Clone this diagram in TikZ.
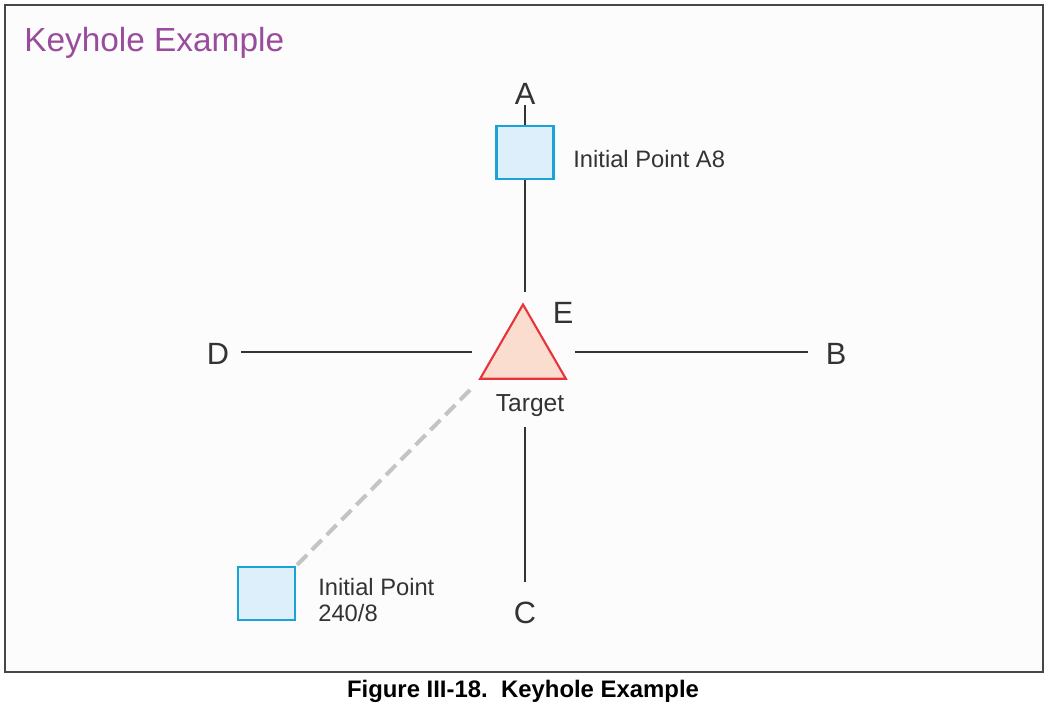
\documentclass[tikz,border=0pt]{standalone}
\usepackage{fontspec}
\setmainfont{Liberation Sans}
\usetikzlibrary{positioning,shapes.geometric}
\definecolor{ink}{HTML}{333333}
\definecolor{khpurple}{HTML}{9A4C9C}
\definecolor{ipline}{HTML}{1AA3D6}
\definecolor{ipfill}{HTML}{DDEFFA}
\definecolor{tgtline}{HTML}{E8333A}
\definecolor{tgtfill}{HTML}{FBDDD0}
\definecolor{dashgray}{HTML}{C4C4C4}
\begin{document}
\begin{tikzpicture}[x=0.02cm, y=-0.02cm, every node/.style={text=ink, inner sep=0pt}]
\tikzstyle{ip}=[draw=ipline, fill=ipfill, line width=1.2pt, minimum width=1.14cm, minimum height=1.06cm]
\tikzstyle{dir}=[font=\fontsize{17.5}{20}\selectfont]
\tikzstyle{txt}=[font=\fontsize{13.5}{15}\selectfont, align=left, anchor=west]
\tikzstyle{leg}=[draw=ink, line width=1.3pt]
\useasboundingbox (0,0) rectangle (1047,705);
% frame and titles
\draw[draw=ink!90, fill=white!99!black, line width=1.3pt] (5,5) rectangle (1043,672);
\node[anchor=base west, text=khpurple, font=\fontsize{19}{22}\selectfont] (title) at (24,52) {Keyhole Example};
\node[anchor=base, font=\bfseries\fontsize{13.6}{16}\selectfont, text=black] (cap) at (523,697) {Figure III-18.\ \ Keyhole Example};
% target
\node[regular polygon, regular polygon sides=3, minimum size=1.98cm, draw=tgtline, fill=tgtfill, line width=1.2pt] (tgt) at (523,354) {};
\node[anchor=base, font=\fontsize{14}{16}\selectfont] (tlab) at (530,412) {Target};
% legs
\node[dir] (A) at (525,94) {A};
\node[dir] (B) at (836,354) {B};
\node[dir] (C) at (525,613) {C};
\node[dir] (D) at (218,354) {D};
\node[dir] (E) at (563,313) {E};
\coordinate (nN) at (525,292);
\coordinate (nS) at (525,427);
\coordinate (nW) at (472,352);
\coordinate (nE) at (575,352);
\coordinate (fS) at (525,582);
\coordinate (fW) at (241,352);
\coordinate (fE) at (808,352);
\coordinate (nSW) at (470,390);
% initial points
\node[ip] (ipA) at (525,152.5) {};
\node[txt] (ipAlab) at (573,159) {Initial Point A8};
\node[ip] (ipB) at (266.5,593.5) {};
\node[txt] (ipBlab) at (318,600) {Initial Point\\240/8};
\draw[leg] (A.south) -- (ipA.north);
\draw[leg] (ipA.south) -- (nN);
\draw[leg] (nS) -- (fS);
\draw[leg] (fW) -- (nW);
\draw[leg] (nE) -- (fE);
\draw[dashgray, line width=2.3pt, dash pattern=on 8pt off 4pt] (nSW) -- (ipB.north east);
\end{tikzpicture}
\end{document}
